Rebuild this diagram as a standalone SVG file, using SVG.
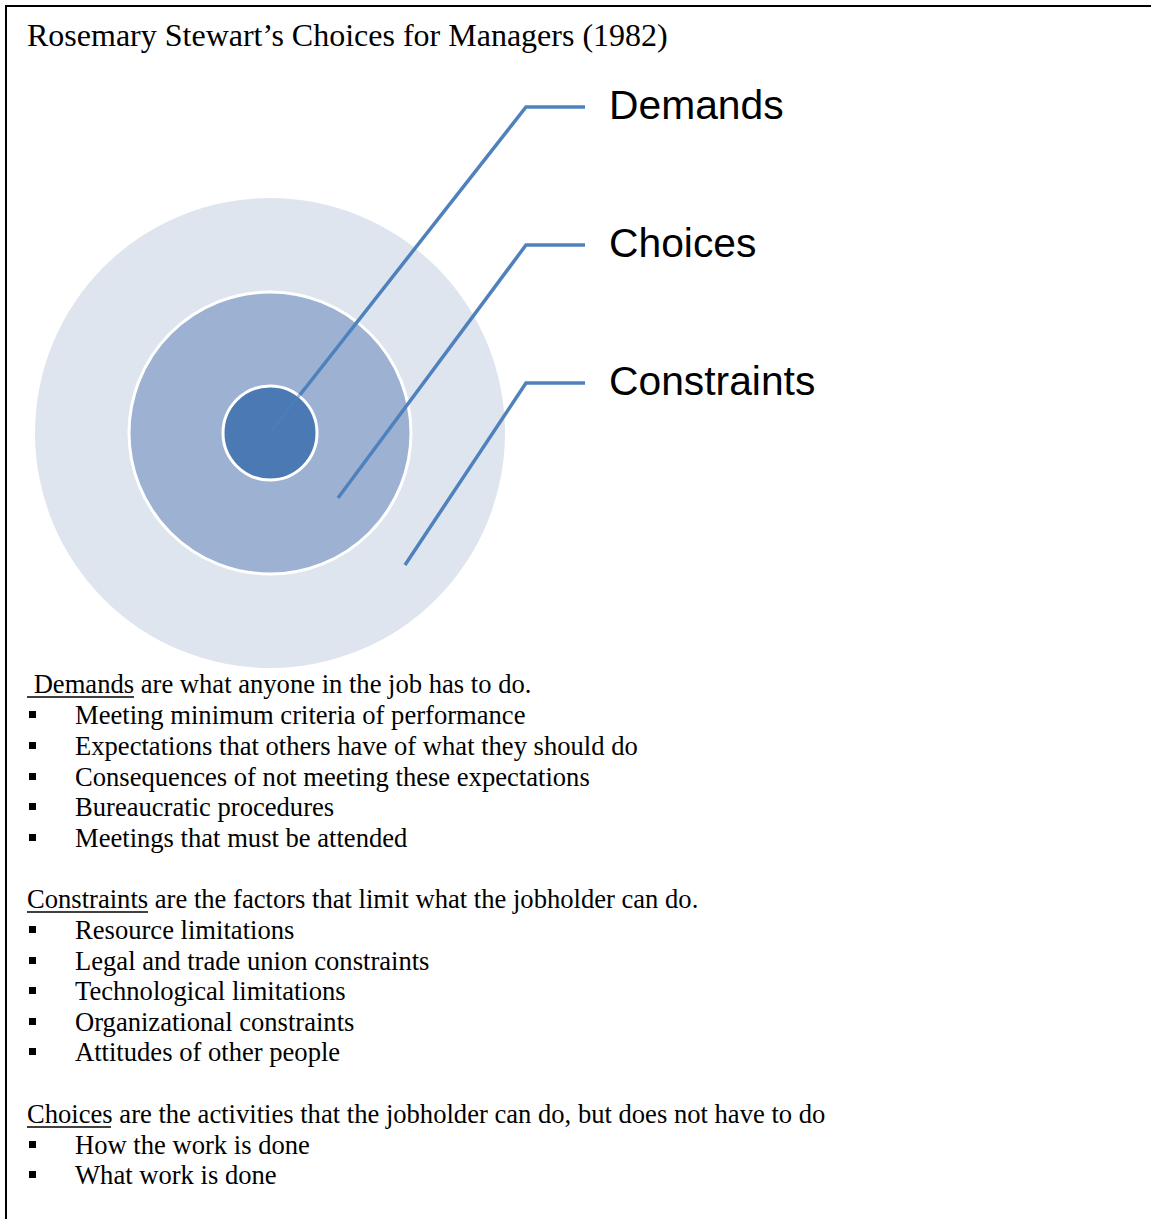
<svg xmlns="http://www.w3.org/2000/svg" width="1151" height="1219" viewBox="0 0 1151 1219">
<style>
.frame{stroke:#000;stroke-width:2;fill:none}
.conn{stroke:#4f81bd;stroke-width:3.5;fill:none}
.lbl{font-family:"Liberation Sans",Arial,sans-serif;font-size:40.8px;fill:#000}
.t{font-family:"Liberation Serif","Times New Roman",serif;font-size:26.6px;fill:#000}
.title{font-family:"Liberation Serif","Times New Roman",serif;font-size:32px;fill:#000}
.u{stroke:#000;stroke-width:1.5}
.b{fill:#000}
</style>
<rect width="1151" height="1219" fill="#fff"/>
<path class="frame" d="M6 1219 V6 H1151"/>
<text class="title" x="27" y="46">Rosemary Stewart’s Choices for Managers (1982)</text>

<g id="constraints-ring"><circle cx="270" cy="433" r="235" fill="#dfe5ef"/></g>
<g id="choices-ring"><circle cx="270" cy="433" r="141" fill="#9db2d3" stroke="#fff" stroke-width="3"/></g>
<g id="connectors">
<polyline class="conn" points="270,433 526,107 585,107"/>
<polyline class="conn" points="338,498 526,245 585,245"/>
<polyline class="conn" points="405,565 526,383 585,383"/>
</g>
<g id="demands-core">
<circle cx="270" cy="433" r="47" fill="#4a79b4" stroke="#fff" stroke-width="3"/>
<line x1="270" y1="433" x2="305" y2="388" stroke="#4f81bd" stroke-width="3" opacity="0.5"/>
</g>
<g id="label-demands"><text class="lbl" x="609" y="119">Demands</text></g>
<g id="label-choices"><text class="lbl" x="609" y="257">Choices</text></g>
<g id="label-constraints"><text class="lbl" x="609" y="395">Constraints</text></g>

<g id="demands-text">
<text class="t" x="27" y="693" xml:space="preserve"> Demands are what anyone in the job has to do.</text>
<line class="u" x1="27" y1="697" x2="134" y2="697"/>
<rect class="b" x="29" y="711" width="7" height="7"/><text class="t" x="75" y="724">Meeting minimum criteria of performance</text>
<rect class="b" x="29" y="742" width="7" height="7"/><text class="t" x="75" y="755">Expectations that others have of what they should do</text>
<rect class="b" x="29" y="773" width="7" height="7"/><text class="t" x="75" y="786">Consequences of not meeting these expectations</text>
<rect class="b" x="29" y="803" width="7" height="7"/><text class="t" x="75" y="816">Bureaucratic procedures</text>
<rect class="b" x="29" y="834" width="7" height="7"/><text class="t" x="75" y="847">Meetings that must be attended</text>
</g>

<g id="constraints-text">
<text class="t" x="27" y="908">Constraints are the factors that limit what the jobholder can do.</text>
<line class="u" x1="27" y1="912" x2="148" y2="912"/>
<rect class="b" x="29" y="926" width="7" height="7"/><text class="t" x="75" y="939">Resource limitations</text>
<rect class="b" x="29" y="957" width="7" height="7"/><text class="t" x="75" y="970">Legal and trade union constraints</text>
<rect class="b" x="29" y="987" width="7" height="7"/><text class="t" x="75" y="1000">Technological limitations</text>
<rect class="b" x="29" y="1018" width="7" height="7"/><text class="t" x="75" y="1031">Organizational constraints</text>
<rect class="b" x="29" y="1048" width="7" height="7"/><text class="t" x="75" y="1061">Attitudes of other people</text>
</g>

<g id="choices-text">
<text class="t" x="27" y="1123">Choices are the activities that the jobholder can do, but does not have to do</text>
<line class="u" x1="27" y1="1127" x2="111" y2="1127"/>
<rect class="b" x="29" y="1141" width="7" height="7"/><text class="t" x="75" y="1154">How the work is done</text>
<rect class="b" x="29" y="1171" width="7" height="7"/><text class="t" x="75" y="1184">What work is done</text>
</g>
</svg>
